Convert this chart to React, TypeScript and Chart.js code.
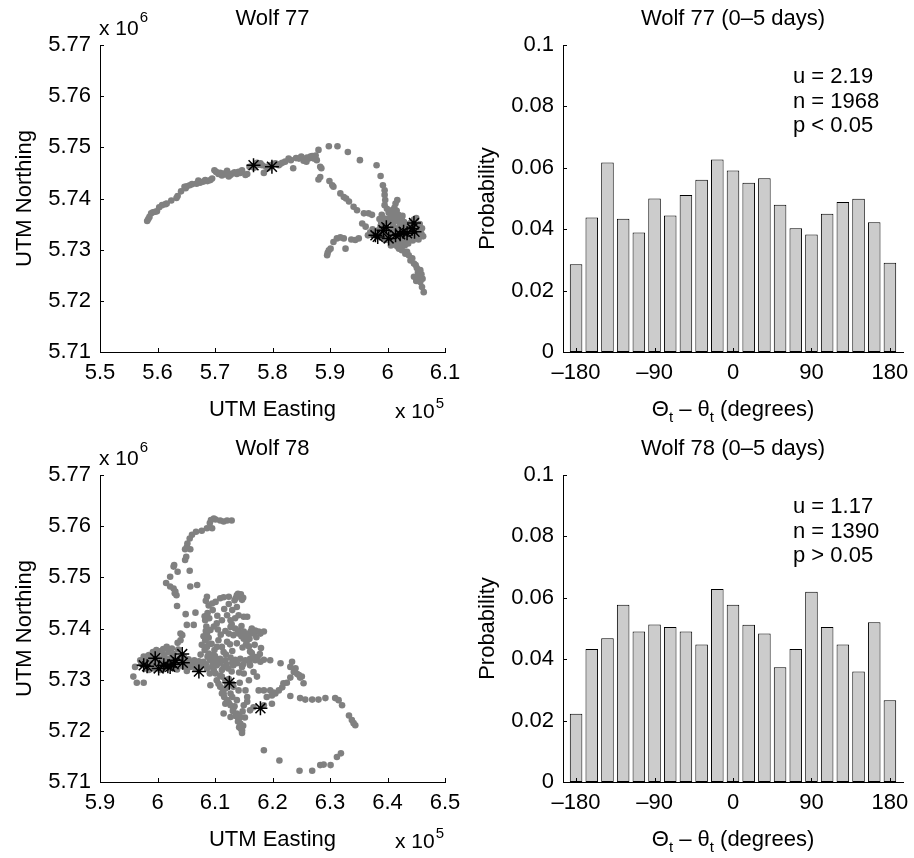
import React, { useEffect, useRef } from 'react';
import { Chart, registerables } from 'chart.js';

Chart.register(...registerables);

const FONT = '"Liberation Sans", Arial, Helvetica, sans-serif';

type Pt = [number, number];

// ---------- Histogram data (bin centres in degrees, probability) ----------
const binCenters = [-180, -162, -144, -126, -108, -90, -72, -54, -36, -18, 0, 18, 36, 54, 72, 90, 108, 126, 144, 162, 180];
const wolf77Prob = [0.0286, 0.0438, 0.0617, 0.0434, 0.0389, 0.0500, 0.0445, 0.0511, 0.0561, 0.0627, 0.0591, 0.0551, 0.0566, 0.0480, 0.0403, 0.0383, 0.0450, 0.0489, 0.0499, 0.0423, 0.0291];
const wolf78Prob = [0.0222, 0.0433, 0.0468, 0.0577, 0.0490, 0.0513, 0.0505, 0.0490, 0.0448, 0.0629, 0.0577, 0.0512, 0.0484, 0.0374, 0.0433, 0.0620, 0.0505, 0.0448, 0.0360, 0.0520, 0.0266];
const histXTicks = [-180, -90, 0, 90, 180];
const histYTicks = [0, 0.02, 0.04, 0.06, 0.08, 0.1];
const wolf77Stats = ['u = 2.19', 'n = 1968', 'p < 0.05'];
const wolf78Stats = ['u = 1.17', 'n = 1390', 'p > 0.05'];

// ---------- Track data (UTM, km) ----------
const wolf77XTicks = [550, 560, 570, 580, 590, 600, 610];
const wolf78XTicks = [590, 600, 610, 620, 630, 640, 650];
const northTicks = [5710, 5720, 5730, 5740, 5750, 5760, 5770];

const wolf77Track: Pt[] = [
  [558.2, 5735.6], [558.6, 5736.4], [558.9, 5737.1], [559.6, 5737.4], [559.9, 5737.5], [560.8, 5738.7], [561.4, 5738.9], [561.6, 5739.0],
  [563.3, 5740.1], [563.5, 5740.5], [564.7, 5742.3], [565.1, 5742.4], [565.6, 5742.6], [566.0, 5742.8], [567.4, 5743.1], [568.0, 5743.3],
  [568.3, 5743.6], [569.2, 5743.6], [569.5, 5743.9], [569.9, 5745.5], [570.2, 5745.2], [570.6, 5744.8], [571.2, 5744.5], [571.5, 5744.9],
  [572.1, 5745.4], [572.4, 5744.3], [572.7, 5744.6], [573.0, 5744.9], [573.8, 5744.8], [574.1, 5745.2], [574.7, 5745.5], [575.3, 5744.6],
  [575.6, 5744.8], [576.0, 5746.2], [576.4, 5746.3], [577.3, 5747.0], [577.9, 5746.9], [578.2, 5746.5], [578.5, 5745.0], [578.9, 5746.2],
  [579.6, 5746.5], [580.5, 5746.9], [581.1, 5746.5], [581.7, 5747.0], [582.2, 5747.2], [582.8, 5747.8], [583.6, 5745.9], [584.6, 5747.8],
  [585.0, 5748.2], [585.4, 5747.4], [585.9, 5747.2], [586.3, 5747.8], [586.6, 5748.2], [586.9, 5748.3], [587.3, 5747.8], [587.7, 5747.5],
  [588.0, 5749.5], [588.3, 5746.2], [588.5, 5745.9], [589.8, 5750.2], [591.3, 5750.2], [593.1, 5749.1], [595.2, 5747.5], [598.1, 5746.5],
  [598.8, 5744.4], [599.2, 5742.6], [599.5, 5741.6], [599.5, 5740.7], [599.6, 5739.7], [599.5, 5738.7], [601.7, 5739.7], [601.4, 5739.0],
  [558.4, 5736.0], [559.2, 5737.3], [560.3, 5738.3], [562.4, 5739.6], [564.1, 5741.4], [564.9, 5742.0], [566.8, 5742.9], [567.1, 5743.5],
  [568.7, 5743.4], [570.9, 5745.0], [571.9, 5744.7], [573.4, 5745.1], [574.4, 5745.0], [576.8, 5746.0], [577.6, 5746.6], [579.2, 5745.9],
  [580.1, 5746.7], [581.4, 5746.8], [583.2, 5747.5], [584.1, 5747.9], [586.0, 5748.0], [587.0, 5747.9], [587.5, 5748.4],
  [588.3, 5744.2], [588.0, 5743.7], [589.9, 5743.4], [590.4, 5742.6], [590.6, 5742.3], [591.8, 5741.0], [592.4, 5740.3], [592.8, 5740.0],
  [593.3, 5739.4], [594.1, 5738.4], [594.7, 5737.7], [595.9, 5737.1], [596.7, 5737.1], [597.3, 5736.8], [595.6, 5735.1], [596.2, 5734.5],
  [595.0, 5732.2], [594.4, 5731.9], [593.7, 5732.0], [592.4, 5732.2], [591.8, 5732.4], [591.2, 5732.2], [590.6, 5731.5], [590.1, 5730.2],
  [589.8, 5729.9], [589.6, 5729.4], [589.5, 5728.9], [592.7, 5730.2],
  [601.7, 5730.6], [602.5, 5729.9], [603.1, 5729.2], [603.7, 5728.9], [604.0, 5727.9], [604.6, 5727.3], [604.9, 5727.0], [605.1, 5726.4],
  [605.7, 5726.0], [605.4, 5724.7], [604.6, 5724.7], [605.7, 5723.7], [606.0, 5722.7], [606.3, 5721.7],
  [602.0, 5730.2], [603.4, 5729.6], [604.3, 5728.3], [605.3, 5725.6], [605.9, 5725.2], [606.1, 5724.3], [605.0, 5723.9],
  [598.5, 5733.0], [599.0, 5733.8], [599.3, 5734.5], [599.8, 5735.2], [600.2, 5736.0], [600.6, 5736.6], [601.0, 5737.0], [601.5, 5736.4],
  [601.8, 5735.6], [602.2, 5734.9], [602.6, 5734.2], [603.0, 5733.6], [603.4, 5733.0], [603.9, 5732.5], [604.3, 5733.2], [604.8, 5733.9],
  [605.2, 5734.6], [605.6, 5733.8], [605.9, 5733.1], [606.2, 5732.6], [600.0, 5733.2], [600.5, 5734.0], [601.0, 5734.8], [601.3, 5733.5],
  [601.7, 5732.8], [602.0, 5733.4], [602.4, 5732.6], [602.8, 5732.0], [603.2, 5731.6], [603.6, 5731.2], [600.8, 5732.4], [600.3, 5731.8],
  [599.6, 5731.9], [599.1, 5732.4], [598.2, 5732.6], [597.8, 5733.2], [598.8, 5734.6], [599.5, 5736.1], [600.9, 5735.6], [601.6, 5737.6],
  [602.9, 5735.4], [603.5, 5734.5], [604.0, 5735.2], [604.6, 5735.9], [605.0, 5736.2], [602.0, 5736.0], [600.2, 5737.2], [599.0, 5736.8],
  [598.6, 5736.0], [597.4, 5734.0], [597.0, 5733.4], [596.6, 5732.8], [604.4, 5731.8], [605.4, 5732.0], [606.0, 5734.2], [603.0, 5730.8],
  [602.4, 5731.0], [601.8, 5731.4], [601.2, 5731.0], [600.6, 5730.8],
  [598.9, 5735.3], [599.7, 5734.8], [600.4, 5735.4], [601.2, 5736.0], [601.9, 5736.8], [602.5, 5735.8], [603.1, 5735.0], [603.7, 5733.8],
  [604.1, 5734.6], [604.5, 5732.6], [605.1, 5733.1], [605.6, 5735.0], [600.1, 5732.6], [600.7, 5733.4], [601.4, 5734.2], [602.2, 5733.8],
  [602.9, 5733.1], [603.7, 5732.2], [599.4, 5733.3], [598.4, 5733.8], [601.0, 5731.6], [602.1, 5732.1], [604.9, 5734.9], [602.6, 5736.6],
  [600.7, 5737.7], [601.2, 5738.2], [599.9, 5738.0],
];

const wolf77Stars: Pt[] = [
  [576.7, 5746.5], [579.9, 5746.2], [597.9, 5732.8], [598.3, 5732.5], [599.8, 5734.4], [600.2, 5732.2], [601.4, 5732.8],
  [602.2, 5733.0], [602.8, 5733.5], [603.4, 5733.2], [604.3, 5734.1], [604.6, 5735.2], [604.7, 5733.5], [599.3, 5733.8],
];

const wolf78Track: Pt[] = [
  [612.9, 5761.1], [612.1, 5761.1], [611.5, 5760.9], [610.9, 5761.1], [610.1, 5761.3], [609.8, 5761.5], [609.3, 5761.2], [609.1, 5760.6],
  [609.5, 5759.6], [608.6, 5759.6], [607.7, 5759.1], [606.7, 5758.9], [606.0, 5758.3], [605.6, 5757.6], [605.2, 5756.6], [605.1, 5755.9],
  [604.8, 5755.5], [605.7, 5755.5], [605.0, 5754.0], [604.8, 5753.4], [605.6, 5751.3], [603.5, 5751.1], [602.9, 5752.4], [602.8, 5752.1],
  [602.2, 5750.1], [601.5, 5748.9], [602.2, 5748.2], [602.8, 5747.8], [603.1, 5747.2], [603.3, 5746.5], [603.4, 5744.4], [605.7, 5748.2],
  [606.9, 5748.5], [603.0, 5746.9],
  [604.9, 5742.8], [606.6, 5743.1], [604.0, 5739.0], [604.3, 5738.7], [604.0, 5737.7], [603.5, 5737.2], [605.1, 5740.7], [606.3, 5740.7],
  [601.6, 5736.4], [602.5, 5736.1], [599.6, 5734.2], [599.0, 5733.8], [598.2, 5734.5], [597.6, 5734.5], [597.0, 5733.8], [596.1, 5732.5],
  [595.8, 5730.6], [596.4, 5729.4], [597.6, 5729.4], [599.2, 5732.2],
  [597.9, 5733.5], [598.7, 5733.2], [599.9, 5733.3], [600.5, 5734.0], [601.3, 5733.5], [602.2, 5733.8], [603.1, 5733.2], [604.0, 5733.0],
  [604.8, 5732.9], [605.7, 5732.5], [606.6, 5732.2], [607.4, 5732.4], [601.1, 5734.8], [602.5, 5734.5], [598.5, 5731.9], [600.5, 5731.9],
  [603.4, 5732.0], [605.1, 5731.7],
  [597.2, 5733.0], [598.0, 5732.2], [598.8, 5734.0], [599.4, 5732.8], [600.0, 5734.6], [600.8, 5733.0], [601.5, 5734.2], [602.0, 5732.9],
  [602.6, 5734.0], [603.2, 5732.6], [603.8, 5734.2], [604.4, 5732.6], [605.0, 5733.6], [606.0, 5733.2], [607.0, 5733.0], [607.8, 5732.8],
  [600.6, 5735.6], [601.9, 5735.4], [603.6, 5735.9], [599.2, 5735.4],
  [598.5, 5734.8], [599.8, 5735.8], [601.0, 5736.0], [602.8, 5735.0], [603.8, 5733.6], [604.6, 5734.4], [605.4, 5734.0], [606.4, 5733.8],
  [607.2, 5733.6],
  [608.6, 5746.2], [609.5, 5744.9], [610.1, 5745.2], [610.9, 5745.9], [611.5, 5746.1], [612.4, 5746.2], [613.8, 5746.5], [614.4, 5746.2],
  [614.7, 5745.6], [613.8, 5744.2], [613.0, 5743.6], [612.1, 5742.6], [611.2, 5741.6], [610.3, 5741.0], [609.8, 5740.4], [609.2, 5739.7],
  [608.6, 5739.0], [608.3, 5737.7], [608.6, 5736.4], [608.9, 5735.1], [609.2, 5733.8], [609.5, 5732.5], [608.3, 5741.6], [608.5, 5740.4],
  [608.7, 5734.5], [609.1, 5731.2],
  [608.4, 5745.4], [608.9, 5744.5], [608.7, 5743.0], [608.2, 5742.4], [609.0, 5742.0], [608.4, 5739.5], [608.9, 5736.9], [609.1, 5734.0],
  [608.6, 5732.2], [614.0, 5746.8], [614.5, 5746.7], [614.9, 5746.0], [613.6, 5745.9],
  [608.0, 5733.5], [610.1, 5733.8], [610.9, 5734.1], [611.8, 5733.8], [612.7, 5734.3], [613.5, 5733.9], [614.4, 5734.1], [615.3, 5733.8],
  [616.1, 5734.1], [617.0, 5733.8], [617.9, 5733.5], [618.5, 5733.9], [610.3, 5732.8], [611.5, 5732.5], [613.2, 5732.8], [614.7, 5732.5],
  [616.1, 5732.8],
  [612.7, 5741.6], [612.7, 5740.3], [612.4, 5739.0], [613.2, 5738.7], [614.1, 5739.0], [615.0, 5739.4], [615.9, 5739.0], [616.7, 5739.0],
  [617.6, 5739.4], [618.5, 5739.4], [615.0, 5738.0], [615.6, 5737.7], [615.9, 5736.5], [616.1, 5735.5], [616.7, 5734.5], [613.8, 5737.1],
  [612.1, 5737.4], [611.2, 5736.4], [611.5, 5735.4], [610.3, 5736.4], [610.6, 5737.7], [615.0, 5742.3], [615.6, 5742.3], [614.1, 5742.6],
  [608.0, 5738.5], [608.9, 5738.2], [609.4, 5737.0], [607.7, 5736.8], [608.2, 5735.8], [609.6, 5734.8], [607.5, 5734.9], [608.4, 5733.0],
  [609.8, 5731.8], [610.6, 5733.2], [611.2, 5731.9], [612.0, 5733.0], [612.9, 5731.6], [613.8, 5733.2], [614.2, 5731.4], [611.0, 5738.8],
  [611.8, 5739.5], [610.5, 5739.8], [612.9, 5740.8], [613.5, 5742.0], [611.6, 5743.8], [612.4, 5744.8], [613.4, 5745.5], [610.4, 5742.5],
  [609.6, 5743.6], [614.6, 5740.5], [616.4, 5740.0], [617.2, 5738.3], [618.0, 5736.2], [617.8, 5735.0], [616.9, 5736.8], [616.0, 5738.0],
  [614.8, 5736.3], [613.0, 5735.6], [612.6, 5736.9], [611.9, 5734.9], [609.9, 5735.8],
  [613.5, 5740.0], [614.0, 5739.6], [614.6, 5738.5], [615.4, 5738.6], [616.2, 5739.4], [617.0, 5739.6], [617.9, 5739.0], [615.4, 5736.9],
  [616.4, 5735.2], [617.4, 5734.4], [616.0, 5733.3], [614.9, 5733.0], [613.0, 5733.3], [612.3, 5732.2], [611.0, 5733.5], [610.0, 5734.6],
  [609.6, 5733.0],
  [610.3, 5729.9], [610.9, 5728.6], [611.5, 5727.3], [612.1, 5726.0], [612.7, 5725.0], [613.2, 5724.4], [613.8, 5723.4], [614.1, 5722.1],
  [614.4, 5721.4], [614.7, 5720.1], [614.7, 5719.6], [611.5, 5723.4], [612.7, 5722.7], [609.2, 5728.9], [612.1, 5728.9], [613.2, 5728.6],
  [614.1, 5727.9], [615.3, 5727.9], [615.6, 5726.6], [615.6, 5725.7], [615.0, 5725.0], [616.1, 5724.0], [616.7, 5724.6], [610.1, 5731.2],
  [611.2, 5730.6], [611.8, 5729.9], [611.2, 5727.3], [611.8, 5725.3], [613.0, 5726.6], [613.8, 5726.0], [614.4, 5722.7], [615.0, 5731.2],
  [616.7, 5731.5], [617.3, 5730.6], [615.9, 5729.9],
  [610.9, 5730.8], [612.4, 5730.1], [613.0, 5729.2], [611.4, 5728.0], [612.7, 5727.3], [614.3, 5729.4], [613.4, 5724.8], [614.8, 5723.8],
  [615.2, 5722.6], [614.9, 5721.0], [614.2, 5720.7],
  [611.6, 5726.6], [612.4, 5725.5], [613.1, 5723.9], [613.6, 5722.9], [614.0, 5721.8], [614.5, 5720.4], [610.6, 5729.2], [611.9, 5728.3],
  [619.6, 5733.8], [621.4, 5733.2], [623.4, 5733.5], [623.1, 5732.5], [623.7, 5731.5], [624.3, 5731.1], [624.8, 5730.4], [623.1, 5730.4],
  [622.5, 5729.4], [621.7, 5728.5], [621.1, 5727.9], [620.2, 5727.5], [619.9, 5726.9], [623.1, 5726.8], [624.8, 5726.4], [625.7, 5726.1],
  [626.9, 5726.1], [628.0, 5726.1], [629.2, 5726.4], [630.9, 5726.4], [631.5, 5726.0], [632.1, 5725.0], [633.3, 5723.0], [633.8, 5722.1],
  [634.1, 5721.5], [634.4, 5721.1], [617.6, 5727.9], [618.5, 5727.9], [619.6, 5727.9], [619.0, 5726.6], [619.9, 5725.3], [618.5, 5725.0],
  [624.0, 5732.2], [624.6, 5730.9], [621.9, 5729.3], [625.4, 5729.3], [625.1, 5730.6], [620.5, 5727.3],
  [618.5, 5716.2], [621.2, 5714.2], [624.7, 5712.2], [626.9, 5712.2], [628.3, 5713.3], [628.9, 5713.4], [630.1, 5713.3], [631.2, 5714.9],
  [631.9, 5715.6],
];

const wolf78Stars: Pt[] = [
  [597.6, 5732.8], [598.2, 5732.6], [599.6, 5734.2], [600.2, 5732.2], [601.1, 5732.8], [601.8, 5732.6], [602.2, 5732.5],
  [602.8, 5733.0], [603.1, 5733.8], [604.3, 5735.0], [604.4, 5733.3], [607.2, 5731.6], [612.5, 5729.4], [617.9, 5724.4],
];

// ---------- helpers ----------
const toXY = (pts: Pt[]) => pts.map(([x, y]) => ({ x, y }));

function drawTicksInward(chart: any) {
  const ctx = chart.ctx;
  const ca = chart.chartArea;
  const xs = chart.scales.x;
  const ys = chart.scales.y;
  ctx.save();
  ctx.strokeStyle = '#000';
  ctx.lineWidth = 1;
  ctx.beginPath();
  xs.ticks.forEach((t: any) => {
    const p = Math.round(xs.getPixelForValue(t.value)) + 0.5;
    ctx.moveTo(p, ca.bottom);
    ctx.lineTo(p, ca.bottom - 4);
  });
  ys.ticks.forEach((t: any) => {
    const p = Math.round(ys.getPixelForValue(t.value)) + 0.5;
    ctx.moveTo(ca.left, p);
    ctx.lineTo(ca.left + 4, p);
  });
  ctx.stroke();
  ctx.restore();
}

function txt(ctx: CanvasRenderingContext2D, s: string, x: number, y: number, size: number, align: CanvasTextAlign = 'left') {
  ctx.font = `${size}px ${FONT}`;
  ctx.textAlign = align;
  ctx.textBaseline = 'alphabetic';
  ctx.fillStyle = '#000';
  ctx.fillText(s, x, y);
}

function rotatedLabel(ctx: CanvasRenderingContext2D, s: string, x: number, y: number, size: number) {
  ctx.save();
  ctx.translate(x, y);
  ctx.rotate(-Math.PI / 2);
  txt(ctx, s, 0, 0, size, 'center');
  ctx.restore();
}

function setFit(width?: number, height?: number) {
  return (s: any) => {
    if (width !== undefined) s.width = width;
    if (height !== undefined) s.height = height;
    s.paddingLeft = 0;
    s.paddingRight = 0;
    s.paddingTop = 0;
    s.paddingBottom = 0;
  };
}

const tickFont = { family: FONT, size: 22 };

function scatterConfig(title: string, track: Pt[], stars: Pt[], xTicks: number[], yTicks: number[], xAxisH: number): any {
  return {
    type: 'scatter',
    data: {
      datasets: [
        { data: toXY(stars), pointStyle: 'star', pointRadius: 7, borderColor: '#000', backgroundColor: '#000', borderWidth: 1.5, order: 0 },
        { data: toXY(track), pointStyle: 'circle', pointRadius: 3.3, backgroundColor: '#808080', borderWidth: 0, order: 1 },
      ],
    },
    options: {
      animation: false,
      responsive: false,
      events: [],
      layout: { autoPadding: false, padding: { top: 45, right: 35, left: 0, bottom: 0 } },
      plugins: { legend: { display: false }, tooltip: { enabled: false }, title: { display: false } },
      scales: {
        x: {
          type: 'linear', min: xTicks[0], max: xTicks[xTicks.length - 1],
          afterBuildTicks: (s: any) => { s.ticks = xTicks.map((v) => ({ value: v })); },
          afterFit: setFit(undefined, xAxisH),
          grid: { display: false, drawTicks: false },
          border: { display: true, color: '#000', width: 1 },
          ticks: { autoSkip: false, maxRotation: 0, padding: 8, color: '#000', font: tickFont, callback: (v: number) => String(+(v / 100).toFixed(2)) },
        },
        y: {
          type: 'linear', min: yTicks[0], max: yTicks[yTicks.length - 1],
          afterBuildTicks: (s: any) => { s.ticks = yTicks.map((v) => ({ value: v })); },
          afterFit: setFit(100, undefined),
          grid: { display: false, drawTicks: false },
          border: { display: true, color: '#000', width: 1 },
          ticks: { autoSkip: false, padding: 9, color: '#000', font: tickFont, callback: (v: number) => (v / 1000).toFixed(2) },
        },
      },
    },
    plugins: [{
      id: 'decor',
      afterDraw(chart: any) {
        drawTicksInward(chart);
        const ctx = chart.ctx as CanvasRenderingContext2D;
        const ca = chart.chartArea;
        const cx = (ca.left + ca.right) / 2;
        ctx.save();
        txt(ctx, title, cx, ca.top - 20, 22, 'center');
        rotatedLabel(ctx, 'UTM Northing', ca.left - 69, (ca.top + ca.bottom) / 2, 22);
        txt(ctx, 'UTM Easting', cx, ca.bottom + 64, 22, 'center');
        txt(ctx, 'x 10', ca.left - 1, ca.top - 10, 21);
        ctx.font = `21px ${FONT}`;
        const w1 = ctx.measureText('x 10').width;
        txt(ctx, '6', ca.left - 1 + w1 + 1, ca.top - 23, 15);
        txt(ctx, 'x 10', ca.right - 50, ca.bottom + 66, 21);
        txt(ctx, '5', ca.right - 50 + w1 + 1, ca.bottom + 56, 15);
        ctx.restore();
      },
    }],
  };
}

function histConfig(title: string, probs: number[], stats: string[], xAxisH: number): any {
  return {
    type: 'bar',
    data: {
      datasets: [{
        data: binCenters.map((x, i) => ({ x, y: probs[i] })),
        backgroundColor: '#cccccc',
        borderColor: '#000',
        borderWidth: 1,
        borderSkipped: false,
        barPercentage: 0.8,
        categoryPercentage: 1,
      }],
    },
    options: {
      animation: false,
      responsive: false,
      events: [],
      layout: { autoPadding: false, padding: { top: 45, right: 11, left: 0, bottom: 0 } },
      plugins: { legend: { display: false }, tooltip: { enabled: false }, title: { display: false } },
      scales: {
        x: {
          type: 'linear', min: -195, max: 195, offset: false,
          afterBuildTicks: (s: any) => { s.ticks = histXTicks.map((v) => ({ value: v })); },
          afterFit: setFit(undefined, xAxisH),
          grid: { display: false, drawTicks: false, offset: false },
          border: { display: true, color: '#000', width: 1 },
          ticks: { autoSkip: false, maxRotation: 0, padding: 8, color: '#000', font: tickFont, callback: (v: number) => (v < 0 ? '\u2013' + Math.abs(v) : String(v)) },
        },
        y: {
          type: 'linear', min: 0, max: 0.1,
          afterBuildTicks: (s: any) => { s.ticks = histYTicks.map((v) => ({ value: v })); },
          afterFit: setFit(106, undefined),
          grid: { display: false, drawTicks: false },
          border: { display: true, color: '#000', width: 1 },
          ticks: { autoSkip: false, padding: 9, color: '#000', font: tickFont, callback: (v: number) => String(+v.toFixed(2)) },
        },
      },
    },
    plugins: [{
      id: 'decor',
      afterDraw(chart: any) {
        drawTicksInward(chart);
        const ctx = chart.ctx as CanvasRenderingContext2D;
        const ca = chart.chartArea;
        const cx = (ca.left + ca.right) / 2;
        ctx.save();
        txt(ctx, title, cx, ca.top - 20, 22, 'center');
        rotatedLabel(ctx, 'Probability', ca.left - 69, (ca.top + ca.bottom) / 2, 22);
        stats.forEach((s, i) => txt(ctx, s, ca.right - 110, ca.top + 38 + i * 24.5, 22));
        const big = `22px ${FONT}`;
        const small = `15px ${FONT}`;
        const parts: [string, string, number][] = [
          ['\u0398', big, 0], ['t', small, 6], [' \u2013 ', big, 0], ['\u03B8', big, 0], ['t', small, 6], [' (degrees)', big, 0],
        ];
        let w = 0;
        parts.forEach(([s, f]) => { ctx.font = f; w += ctx.measureText(s).width; });
        let x = cx - w / 2;
        const base = ca.bottom + 64;
        ctx.textAlign = 'left';
        ctx.textBaseline = 'alphabetic';
        ctx.fillStyle = '#000';
        parts.forEach(([s, f, dy]) => { ctx.font = f; ctx.fillText(s, x, base + dy); x += ctx.measureText(s).width; });
        ctx.restore();
      },
    }],
  };
}

function ChartCanvas(props: { make: () => any; left: number; top: number; width: number; height: number }) {
  const ref = useRef<HTMLCanvasElement>(null);
  useEffect(() => {
    const chart = new Chart(ref.current as HTMLCanvasElement, props.make());
    return () => chart.destroy();
  }, []);
  const { left, top, width, height } = props;
  return (
    <canvas
      ref={ref}
      width={width}
      height={height}
      style={{ position: 'absolute', left, top, width, height, display: 'block' }}
    />
  );
}

export default function App() {
  return (
    <div style={{ position: 'absolute', left: 0, top: 0, width: 914, height: 858, background: '#fff', overflow: 'hidden' }}>
      <ChartCanvas left={457} top={0} width={457} height={429}
        make={() => histConfig('Wolf 77 (0\u20135 days)', wolf77Prob, wolf77Stats, 77)} />
      <ChartCanvas left={457} top={430} width={457} height={428}
        make={() => histConfig('Wolf 78 (0\u20135 days)', wolf78Prob, wolf78Stats, 76)} />
      <ChartCanvas left={0} top={0} width={480} height={429}
        make={() => scatterConfig('Wolf 77', wolf77Track, wolf77Stars, wolf77XTicks, northTicks, 77)} />
      <ChartCanvas left={0} top={430} width={480} height={428}
        make={() => scatterConfig('Wolf 78', wolf78Track, wolf78Stars, wolf78XTicks, northTicks, 76)} />
    </div>
  );
}
